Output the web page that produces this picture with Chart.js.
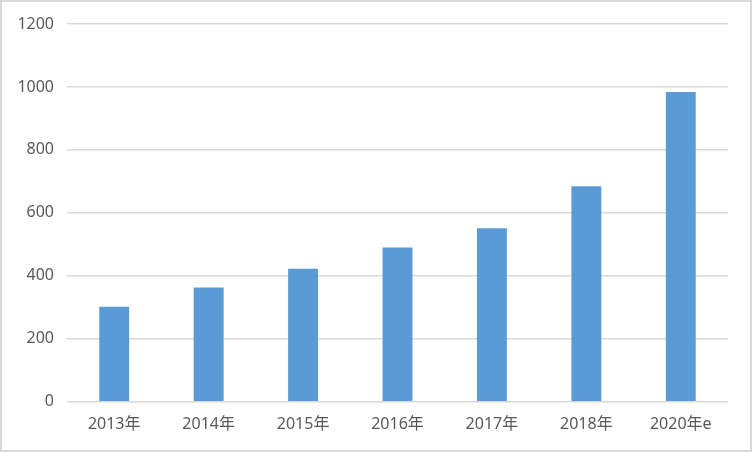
<!DOCTYPE html>
<html>
<head>
<meta charset="utf-8">
<script src="https://cdn.jsdelivr.net/npm/chart.js@4/dist/chart.umd.min.js"></script>
<style>
  html, body { margin: 0; padding: 0; background: #fff; }
  #wrap { width: 752px; height: 452px; position: relative; }
</style>
</head>
<body>
<div id="wrap"><canvas id="chart" width="752" height="452"></canvas></div>
<script>
const categories = ['2013年', '2014年', '2015年', '2016年', '2017年', '2018年', '2020年e'];
const values = [302, 363, 423, 490, 551, 685, 984];
const yTicks = [0, 200, 400, 600, 800, 1000, 1200];

const textColor = '#595959';
const gridColor = '#d9d9d9';
const fontFamily = "'Noto Sans', 'Noto Sans CJK SC', sans-serif";

// light frame around the whole picture, like the exported chart box
const framePlugin = {
  id: 'frame',
  afterDraw(chart) {
    const ctx = chart.ctx;
    ctx.save();
    ctx.strokeStyle = gridColor;
    ctx.lineWidth = 2;
    ctx.strokeRect(1, 1, chart.width - 2, chart.height - 2);
    ctx.restore();
  }
};

const ctx = document.getElementById('chart').getContext('2d');
new Chart(ctx, {
  type: 'bar',
  data: {
    labels: categories,
    datasets: [{
      data: values,
      backgroundColor: '#5b9bd5',
      borderWidth: 0,
      barPercentage: 0.317,
      categoryPercentage: 1
    }]
  },
  options: {
    responsive: false,
    animation: false,
    layout: { padding: { top: 24, right: 24, bottom: 13, left: 0 } },
    plugins: {
      legend: { display: false },
      tooltip: { enabled: false }
    },
    scales: {
      x: {
        grid: { display: false },
        border: { display: false },
        ticks: {
          color: textColor,
          font: { family: fontFamily, size: 16 },
          padding: 5,
          maxRotation: 0
        }
      },
      y: {
        min: 0,
        max: 1200,
        afterFit(scale) { scale.width = 67; },
        afterBuildTicks(scale) { scale.ticks = yTicks.map((v) => ({ value: v })); },
        grid: { color: gridColor, lineWidth: 1.5, drawTicks: false },
        border: { display: false },
        ticks: {
          color: textColor,
          font: { family: fontFamily, size: 16 },
          padding: 13,
          callback: (v) => String(v)
        }
      }
    }
  },
  plugins: [framePlugin]
});
</script>
</body>
</html>
